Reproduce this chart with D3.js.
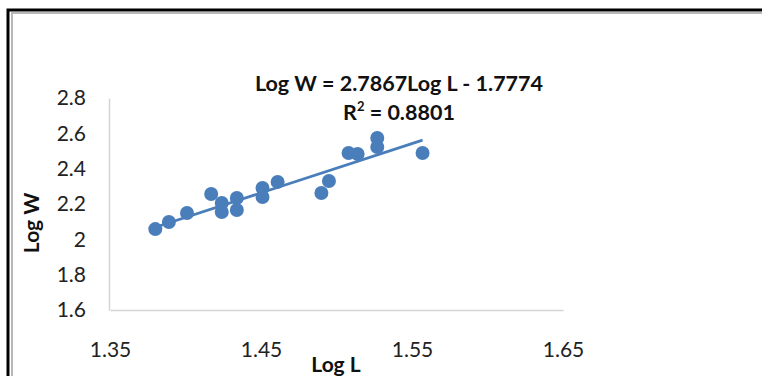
<!DOCTYPE html>
<html>
<head>
<meta charset="utf-8">
<script src="https://cdn.jsdelivr.net/npm/d3@7"></script>
<style>
  body { margin: 0; background: #fff; }
  svg { display: block; }
</style>
</head>
<body>
<svg id="chart" width="762" height="376"></svg>
<script>
// values
const logL = [1.380, 1.389, 1.401, 1.417, 1.424, 1.424, 1.434, 1.434, 1.451, 1.451, 1.461,
              1.490, 1.495, 1.508, 1.514, 1.527, 1.527, 1.557];
const logW = [2.058, 2.098, 2.149, 2.257, 2.206, 2.155, 2.234, 2.166, 2.291, 2.240, 2.325,
              2.262, 2.330, 2.489, 2.483, 2.574, 2.523, 2.489];
const xTicks = [1.35, 1.45, 1.55, 1.65];
const yTicks = [1.6, 1.8, 2.0, 2.2, 2.4, 2.6, 2.8];
const slope = 2.7867, intercept = -1.7774;
const eqText = "Log W = 2.7867Log L - 1.7774";
const r2Text = "0.8801";

const svg = d3.select("#chart");
const blue = "#4a7ebb";

// frame round the picture
svg.append("path")
  .attr("d", "M12,376 V13 H762")
  .attr("fill", "none").attr("stroke", "#b8b8b8").attr("stroke-width", 2);
svg.append("path")
  .attr("d", "M8,376 V10 H762")
  .attr("fill", "none").attr("stroke", "#000").attr("stroke-width", 3);

const x = d3.scaleLinear().domain([1.35, 1.65]).range([110, 563]);
const y = d3.scaleLinear().domain([1.6, 2.8]).range([310, 98]);

const xAxis = svg.append("g")
  .attr("transform", "translate(0,310)")
  .call(d3.axisBottom(x).tickValues(xTicks).tickSize(0).tickPadding(32)
    .tickFormat(d3.format(".2f")));
const yAxis = svg.append("g")
  .attr("transform", "translate(109,0)")
  .call(d3.axisLeft(y).tickValues(yTicks).tickSize(0).tickPadding(23)
    .tickFormat(d => d === 2 ? "2" : d3.format(".1f")(d)));

[xAxis, yAxis].forEach(g => {
  g.select(".domain").attr("stroke", "#d4d4d4").attr("stroke-width", 1.5);
  g.selectAll("text")
    .attr("fill", "#222")
    .style("font-family", "Lato, 'Open Sans', sans-serif")
    .style("font-size", "21px");
});

// trend line
const xs = d3.extent(logL);
svg.append("line")
  .attr("x1", x(xs[0])).attr("y1", y(slope * xs[0] + intercept))
  .attr("x2", x(xs[1])).attr("y2", y(slope * xs[1] + intercept))
  .attr("stroke", blue).attr("stroke-width", 2.75);

svg.append("g").selectAll("circle")
  .data(logL.map((d, i) => [d, logW[i]]))
  .enter().append("circle")
  .attr("cx", d => x(d[0]))
  .attr("cy", d => y(d[1]))
  .attr("r", 7)
  .attr("fill", blue);

// labels
const bold = t => t.style("font-family", "Lato, 'Open Sans', sans-serif")
  .style("font-weight", "bold").attr("fill", "#111").attr("text-anchor", "middle");

svg.append("text").call(bold)
  .attr("x", 399).attr("y", 91)
  .style("font-size", "21.5px")
  .text(eqText);

const r2 = svg.append("text").call(bold)
  .attr("x", 399).attr("y", 120)
  .style("font-size", "21.5px");
r2.append("tspan").text("R");
r2.append("tspan").attr("dy", -9).style("font-size", "13px").text("2");
r2.append("tspan").attr("dy", 9).text(" = " + r2Text);

svg.append("text").call(bold)
  .attr("x", 336).attr("y", 372)
  .style("font-size", "21px")
  .text("Log L");

svg.append("text").call(bold)
  .attr("transform", "translate(39,223) rotate(-90)")
  .style("font-size", "21px")
  .text("Log W");
</script>
</body>
</html>
